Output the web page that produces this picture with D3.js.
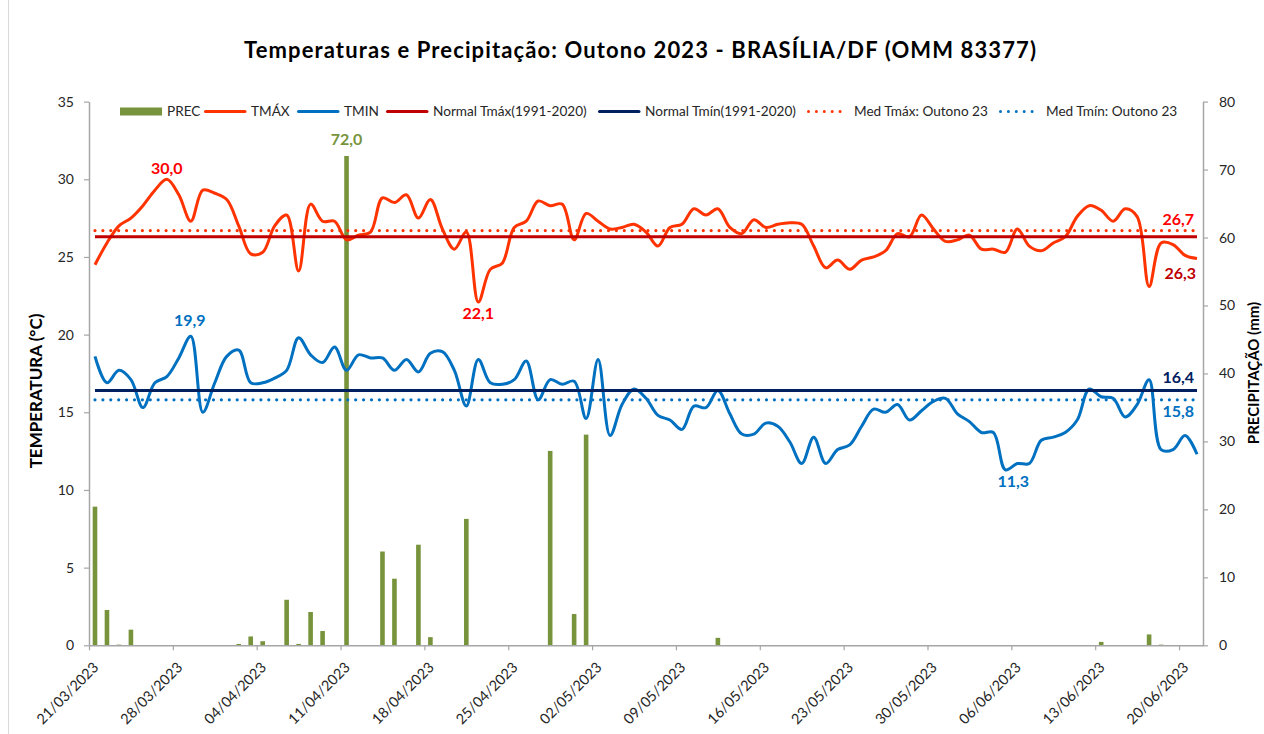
<!DOCTYPE html>
<html>
<head>
<meta charset="utf-8">
<script src="https://cdn.jsdelivr.net/npm/d3@7"></script>
<style>
	body { margin: 0; background: #fff; }
	svg { display: block; font-family: Lato, "Open Sans", sans-serif; }
</style>
</head>
<body>
<div id="chart"></div>
<script>
// daily series, 21/03/2023 .. 21/06/2023 (93 days)
const firstDay = Date.UTC(2023, 2, 21);
const lastDay = Date.UTC(2023, 5, 21);

const tmax = [
	24.5, 25.9, 27.0, 27.5, 28.3, 29.3, 30.0, 29.0, 27.3, 29.3,
	29.1, 28.7, 27.0, 25.2, 25.3, 27.0, 27.7, 24.1, 28.4, 27.3,
	27.3, 26.1, 26.4, 26.6, 28.8, 28.5, 29.0, 27.5, 28.7, 26.8,
	25.5, 26.6, 22.1, 24.2, 24.6, 26.9, 27.3, 28.6, 28.3, 28.4,
	26.1, 27.8, 27.3, 26.8, 26.9, 27.1, 26.6, 25.7, 26.9, 27.1,
	28.1, 27.7, 28.1, 26.9, 26.5, 27.4, 26.9, 27.1, 27.2, 27.1,
	25.7, 24.3, 24.8, 24.2, 24.8, 25.0, 25.4, 26.5, 26.3, 27.7,
	26.8, 26.0, 26.1, 26.4, 25.5, 25.5, 25.3, 26.8, 25.7, 25.4,
	25.9, 26.3, 27.6, 28.3, 28.0, 27.3, 28.1, 27.6, 23.1, 25.9,
	25.8, 25.1, 24.9
];

const tmin = [
	18.6, 16.9, 17.7, 17.1, 15.3, 16.9, 17.3, 18.5, 19.9, 15.0,
	16.9, 18.6, 19.0, 16.9, 16.9, 17.2, 17.7, 19.8, 18.7, 18.2,
	19.2, 17.7, 18.7, 18.5, 18.5, 17.7, 18.4, 17.6, 18.8, 18.9,
	17.7, 15.4, 18.4, 16.9, 16.8, 17.1, 18.3, 15.8, 17.1, 16.8,
	17.0, 14.6, 18.4, 13.5, 15.5, 16.5, 15.9, 14.8, 14.5, 13.9,
	15.4, 15.3, 16.4, 14.9, 13.6, 13.6, 14.3, 14.1, 13.1, 11.7,
	13.4, 11.7, 12.6, 12.9, 14.1, 15.2, 15.0, 15.5, 14.5, 15.1,
	15.7, 15.9, 14.9, 14.4, 13.7, 13.7, 11.3, 11.7, 11.7, 13.2,
	13.4, 13.7, 14.5, 16.5, 16.0, 15.9, 14.7, 15.5, 17.1, 12.6,
	12.6, 13.5, 12.3
];

const prec = [
	20.4, 5.2, 0.1, 2.3, 0, 0, 0, 0, 0, 0,
	0, 0, 0.2, 1.3, 0.6, 0, 6.7, 0.2, 4.9, 2.1,
	0, 72.0, 0, 0, 13.8, 9.8, 0, 14.8, 1.2, 0,
	0, 18.6, 0, 0, 0, 0, 0, 0, 28.6, 0,
	4.6, 31.0, 0, 0, 0, 0, 0, 0, 0, 0,
	0, 0, 1.1, 0, 0, 0, 0, 0, 0, 0,
	0, 0, 0, 0, 0, 0, 0, 0, 0, 0,
	0, 0, 0, 0, 0, 0, 0, 0, 0, 0,
	0, 0, 0, 0, 0.5, 0, 0, 0, 1.6, 0.1,
	0, 0, 0
];

// reference lines
const normalTmax = 26.3;
const normalTmin = 16.4;
const medTmax = 26.7;
const medTmin = 15.8;

const tempTicks = [0, 5, 10, 15, 20, 25, 30, 35];
const precTicks = [0, 10, 20, 30, 40, 50, 60, 70, 80];

const seriesNames = ['PREC', 'TMÁX', 'TMIN', 'Normal Tmáx(1991-2020)', 'Normal Tmín(1991-2020)',
	'Med Tmáx: Outono 23', 'Med Tmín: Outono 23'];

const title = 'Temperaturas e Precipitação: Outono 2023 - BRASÍLIA/DF (OMM 83377)';

/* ---------------------------------------------------------------- */

const W = 1264, H = 734;
const plot = {left: 89, right: 1203, top: 101.6, bottom: 645.3};

const colors = {
	prec: '#77933c',
	tmax: '#ff3300',
	tmin: '#0070c0',
	normalTmax: '#c00000',
	normalTmin: '#002060',
	axis: '#a6a6a6',
	text: '#262626'
};

const days = d3.utcDay.range(firstDay, d3.utcDay.offset(lastDay, 1));
const fmtNum = v => d3.format('.1f')(v).replace('.', ',');

const svg = d3.select('#chart').append('svg')
	.attr('width', W)
	.attr('height', H);

// chart frame (only the left edge falls inside the picture)
svg.append('line')
	.attr('x1', 8.5).attr('x2', 8.5)
	.attr('y1', 0).attr('y2', H)
	.attr('stroke', '#d9d9d9');

const x = d3.scaleUtc()
	.domain([days[0], d3.utcDay.offset(days[days.length - 1], 1)])
	.range([plot.left, plot.right]);
// each value sits in the middle of its day
const xc = i => x(d3.utcHour.offset(days[i], 12));

const yT = d3.scaleLinear().domain([0, 35]).range([plot.bottom, plot.top]);
const yP = d3.scaleLinear().domain([0, 80]).range([plot.bottom, plot.top]);

/* bars */
const barW = 4.6;
svg.append('g').classed('bars', true)
	.selectAll('rect')
	.data(prec)
	.join('rect')
	.attr('x', (d, i) => xc(i) - barW / 2)
	.attr('y', d => yP(d))
	.attr('width', barW)
	.attr('height', d => yP(0) - yP(d))
	.attr('fill', colors.prec);

/* lines */
const smooth = d3.line()
	.x((d, i) => xc(i))
	.y(d => yT(d))
	.curve(d3.curveCatmullRom.alpha(0.5));

const lines = svg.append('g').classed('lines', true);

lines.append('path')
	.attr('d', smooth(tmax))
	.attr('fill', 'none')
	.attr('stroke', colors.tmax)
	.attr('stroke-width', 3);

lines.append('path')
	.attr('d', smooth(tmin))
	.attr('fill', 'none')
	.attr('stroke', colors.tmin)
	.attr('stroke-width', 3);

const flat = (v, color, dotted) => {
	const l = lines.append('line')
		.attr('x1', xc(0)).attr('x2', xc(days.length - 1))
		.attr('y1', yT(v)).attr('y2', yT(v))
		.attr('stroke', color);
	if (dotted) {
		l.attr('stroke-width', 3.2)
			.attr('stroke-linecap', 'round')
			.attr('stroke-dasharray', '0,7.9');
	} else {
		l.attr('stroke-width', 3);
	}
};
flat(normalTmax, colors.normalTmax, false);
flat(normalTmin, colors.normalTmin, false);
flat(medTmax, colors.tmax, true);
flat(medTmin, colors.tmin, true);

/* axes */
const styleAxis = g => {
	g.select('.domain').attr('stroke', colors.axis).attr('stroke-width', 1.5);
	g.selectAll('.tick line').attr('stroke', colors.axis).attr('stroke-width', 1.2);
	g.selectAll('.tick text').attr('fill', colors.text).style('font-size', '14px');
	g.attr('font-family', null);
};

svg.append('g')
	.attr('transform', `translate(${plot.left},0)`)
	.call(d3.axisLeft(yT).tickValues(tempTicks).tickSize(5).tickSizeOuter(0).tickPadding(10))
	.call(styleAxis);

svg.append('g')
	.attr('transform', `translate(${plot.right},0)`)
	.call(d3.axisRight(yP).tickValues(precTicks).tickSize(5).tickSizeOuter(0).tickPadding(11))
	.call(styleAxis);

const tuesdays = d3.utcTuesday.range(days[0], d3.utcDay.offset(days[days.length - 1], 1));
const xAxis = svg.append('g')
	.attr('transform', `translate(0,${plot.bottom})`)
	.call(d3.axisBottom(x).tickValues(tuesdays).tickSize(5).tickSizeOuter(0)
		.tickFormat(d3.utcFormat('%d/%m/%Y')))
	.call(styleAxis);

xAxis.selectAll('.tick text')
	.attr('text-anchor', 'end')
	.attr('dy', null)
	.attr('y', null)
	.attr('transform', 'translate(10,23) rotate(-45)')
	.style('font-size', '14.5px');

// axis titles
svg.append('text')
	.attr('transform', `translate(42,391) rotate(-90)`)
	.attr('text-anchor', 'middle')
	.attr('fill', '#000')
	.style('font-size', '17px')
	.style('font-weight', 'bold')
	.text('TEMPERATURA (°C)');

svg.append('text')
	.attr('transform', `translate(1259,373) rotate(-90)`)
	.attr('text-anchor', 'middle')
	.attr('fill', '#000')
	.style('font-size', '15px')
	.style('font-weight', 'bold')
	.text('PRECIPITAÇÃO (mm)');

/* title */
svg.append('text')
	.attr('x', 640)
	.attr('y', 58)
	.attr('text-anchor', 'middle')
	.attr('fill', '#000')
	.attr('textLength', 792)
	.attr('lengthAdjust', 'spacing')
	.style('font-size', '22px')
	.style('font-weight', 'bold')
	.text(title);

/* legend */
const legendX = [120, 204, 297, 386, 598, 807, 999];
const legendY = 111.5;
const legendKinds = [
	{kind: 'bar', color: colors.prec},
	{kind: 'line', color: colors.tmax},
	{kind: 'line', color: colors.tmin},
	{kind: 'line', color: colors.normalTmax},
	{kind: 'line', color: colors.normalTmin},
	{kind: 'dot', color: colors.tmax},
	{kind: 'dot', color: colors.tmin}
];
const legend = svg.append('g').classed('legend', true);
seriesNames.forEach((name, k) => {
	const g = legend.append('g').attr('transform', `translate(${legendX[k]},${legendY})`);
	const item = legendKinds[k];
	if (item.kind === 'bar') {
		g.append('rect').attr('x', 0).attr('y', -4).attr('width', 42).attr('height', 8)
			.attr('fill', item.color);
	} else {
		const l = g.append('line').attr('x1', 1.5).attr('x2', 41).attr('y1', 0).attr('y2', 0)
			.attr('stroke', item.color);
		if (item.kind === 'dot') {
			l.attr('stroke-width', 3).attr('stroke-linecap', 'round').attr('stroke-dasharray', '0,7.9');
		} else {
			l.attr('stroke-width', 3).attr('stroke-linecap', 'round');
		}
	}
	g.append('text')
		.attr('x', 47)
		.attr('dy', '0.35em')
		.attr('fill', colors.text)
		.style('font-size', '13.6px')
		.text(name);
});

/* data labels */
const labels = svg.append('g').classed('labels', true)
	.style('font-size', '16px')
	.style('font-weight', 'bold');

const iMax = d3.maxIndex(tmax);
const iMinMax = d3.minIndex(tmax);
const iMaxMin = d3.maxIndex(tmin);
const iMin = d3.minIndex(tmin);
const iPrec = d3.maxIndex(prec);
const iLast = days.length - 1;

const addLabel = (px, py, text, color, anchor) => {
	labels.append('text')
		.attr('x', px)
		.attr('y', py)
		.attr('text-anchor', anchor || 'middle')
		.attr('fill', color)
		.text(text);
};

addLabel(xc(iMax), yT(tmax[iMax]) - 5, fmtNum(tmax[iMax]), '#ff0000');
addLabel(xc(iMinMax), yT(tmax[iMinMax]) + 17, fmtNum(tmax[iMinMax]), '#ff0000');
addLabel(xc(iMaxMin) - 1, yT(tmin[iMaxMin]) - 10, fmtNum(tmin[iMaxMin]), colors.tmin);
addLabel(xc(iMin) + 8, yT(tmin[iMin]) + 17, fmtNum(tmin[iMin]), colors.tmin);
addLabel(xc(iPrec), yP(prec[iPrec]) - 11, fmtNum(prec[iPrec]), colors.prec);

addLabel(xc(iLast) - 3, yT(medTmax) - 6, fmtNum(medTmax), '#ff0000', 'end');
addLabel(xc(iLast) - 1, yT(normalTmax) + 42, fmtNum(normalTmax), colors.normalTmax, 'end');
addLabel(xc(iLast) - 3, yT(normalTmin) - 8, fmtNum(normalTmin), colors.normalTmin, 'end');
addLabel(xc(iLast) - 3, yT(medTmin) + 17, fmtNum(medTmin), colors.tmin, 'end');
</script>
</body>
</html>
